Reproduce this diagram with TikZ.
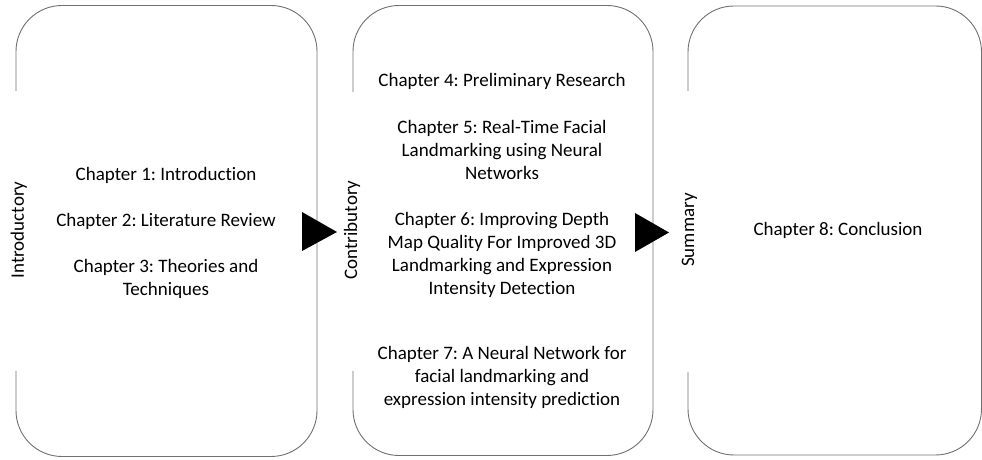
\documentclass[tikz,border=0pt]{standalone}
\usepackage{fontspec}
\setmainfont{Carlito}[Ligatures=NoCommon]
\frenchspacing
\definecolor{boxgray}{RGB}{112,112,112}
\begin{document}
\frenchspacing
\begin{tikzpicture}[x=1pt,y=1pt,
  frame/.style={draw=boxgray, line width=0.9pt, rounded corners=46pt},
  tri/.style={fill=black, draw=none},
  vlab/.style={rotate=90, anchor=base, font=\fontsize{19}{23}\selectfont, inner sep=0pt},
  ln/.style={anchor=base, font=\fontsize{19}{23}\selectfont, inner sep=0pt}]
\useasboundingbox (0,0) rectangle (982,460);
% boxes (left edge open around the vertical label)
\draw[frame] (16,369) -- (16,454.5) -- (317,454.5) -- (317,3.5) -- (16,3.5) -- (16,89);
\draw[frame] (353,368) -- (353,454.5) -- (653,454.5) -- (653,4.5) -- (353,4.5) -- (353,89);
\draw[frame] (688,369) -- (688,454) -- (981.5,454) -- (981.5,5) -- (688,5) -- (688,88);
% arrows
\fill[tri] (302,248) -- (337,228) -- (302,209) -- cycle;
\fill[tri] (635,247) -- (669,227.5) -- (635,208) -- cycle;
% vertical labels
\node[vlab] (lint) at (24,230) {Introductory};
\node[vlab] (lcon) at (357,230) {Contributory};
\node[vlab] (lsum) at (694,230) {Summary};
% box 1
\node[ln] (c1) at (166,279) {Chapter 1: Introduction};
\node[ln] (c2) at (166,233) {Chapter 2: Literature Review};
\node[ln] (c3a) at (166,187) {Chapter 3: Theories and};
\node[ln] (c3b) at (166,164) {Techniques};
% box 2
\node[ln] (c4) at (502,373) {Chapter 4: Preliminary Research};
\node[ln] (c5a) at (502,326) {Chapter 5: Real-Time Facial};
\node[ln] (c5b) at (502,303) {Landmarking using Neural};
\node[ln] (c5c) at (502,280) {Networks};
\node[ln] (c6a) at (502,234) {Chapter 6: Improving Depth};
\node[ln] (c6b) at (502,211) {Map Quality For Improved 3D};
\node[ln] (c6c) at (502,188) {Landmarking and Expression};
\node[ln] (c6d) at (502,165) {Intensity Detection};
\node[ln] (c7a) at (502,100) {Chapter 7: A Neural Network for};
\node[ln] (c7b) at (502,77) {facial landmarking and};
\node[ln] (c7c) at (502,54) {expression intensity prediction};
% box 3
\node[ln] (c8) at (838,224) {Chapter 8: Conclusion};
\end{tikzpicture}
\end{document}
